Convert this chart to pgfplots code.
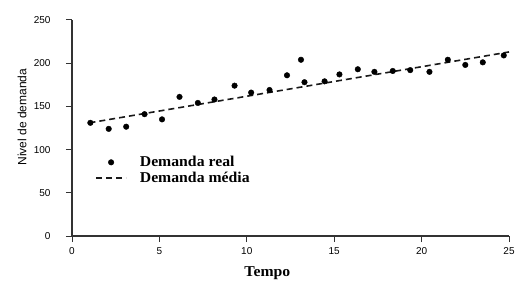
\documentclass[border=0pt]{standalone}
\usepackage{pgfplots}
\pgfplotsset{compat=1.18}
\usepackage{fontspec}
\setmainfont{Liberation Serif}[FakeStretch=1.05]
\newfontfamily\tickfont{Liberation Sans}
\pgfplotsset{
  marklegend/.style={legend image code/.code={\draw[mark repeat=2,mark phase=2,##1] plot coordinates {(0bp,0bp) (15bp,0bp) (30bp,0bp)};}},
  linelegend/.style={legend image code/.code={\draw[##1] (0bp,0bp) -- (30bp,0bp);}},
}
\begin{document}
\begin{tikzpicture}
\path[use as bounding box] (-72bp,-46bp) rectangle (444bp,236bp);
\begin{axis}[
  scale only axis,
  width=437bp, height=216bp,
  xmin=0, xmax=25, ymin=0, ymax=250,
  axis x line*=bottom, axis y line*=left,
  axis line style={line width=1.1bp, black!80},
  xtick={0,5,10,15,20,25}, ytick={0,50,100,150,200,250},
  tick align=outside,
  major tick length=6bp,
  tick style={line width=1bp, black!80},
  /pgf/number format/assume math mode=true,
  ticklabel style={font=\tickfont\fontsize{10bp}{12bp}\selectfont},
  yticklabel style={xshift=-12bp},
  xticklabel style={yshift=-2bp},
  xlabel={\textbf{Tempo}},
  ylabel={Nivel de demanda},
  xlabel style={font=\fontsize{15bp}{17bp}\selectfont, at={(axis description cs:0.447,0)}, anchor=center, yshift=-37bp},
  ylabel style={font=\tickfont\fontsize{12bp}{14bp}\selectfont, at={(axis description cs:0,0.55)}, anchor=center, yshift=50bp},
  legend style={at={(axis cs:1.15,97)}, anchor=north west, draw=none, fill=none,
    font=\bfseries\fontsize{15bp}{17bp}\selectfont, row sep=0bp,
    /tikz/every odd column/.append style={column sep=11bp}},
  legend cell align=left,
]
\addplot[only marks, mark=*, mark size=2.8bp, black, marklegend]
  coordinates {
  (1.05,131) (2.1,124) (3.1,126.5) (4.15,141) (5.15,135) (6.15,161) (7.2,154)
  (8.15,158) (9.3,174) (10.25,166) (11.3,169) (12.3,186) (13.1,204) (13.3,178)
  (14.45,179) (15.3,187) (16.35,193) (17.3,190) (18.35,191) (19.35,192)
  (20.45,190) (21.5,204) (22.5,198) (23.5,201) (24.7,209)
  };
\addlegendentry{Demanda real}
\addplot[black!90, line width=1.6bp, dash pattern=on 6bp off 4bp, linelegend]
  coordinates {(1,131) (25,213)};
\addlegendentry{Demanda média}
\end{axis}
\end{tikzpicture}
\end{document}
